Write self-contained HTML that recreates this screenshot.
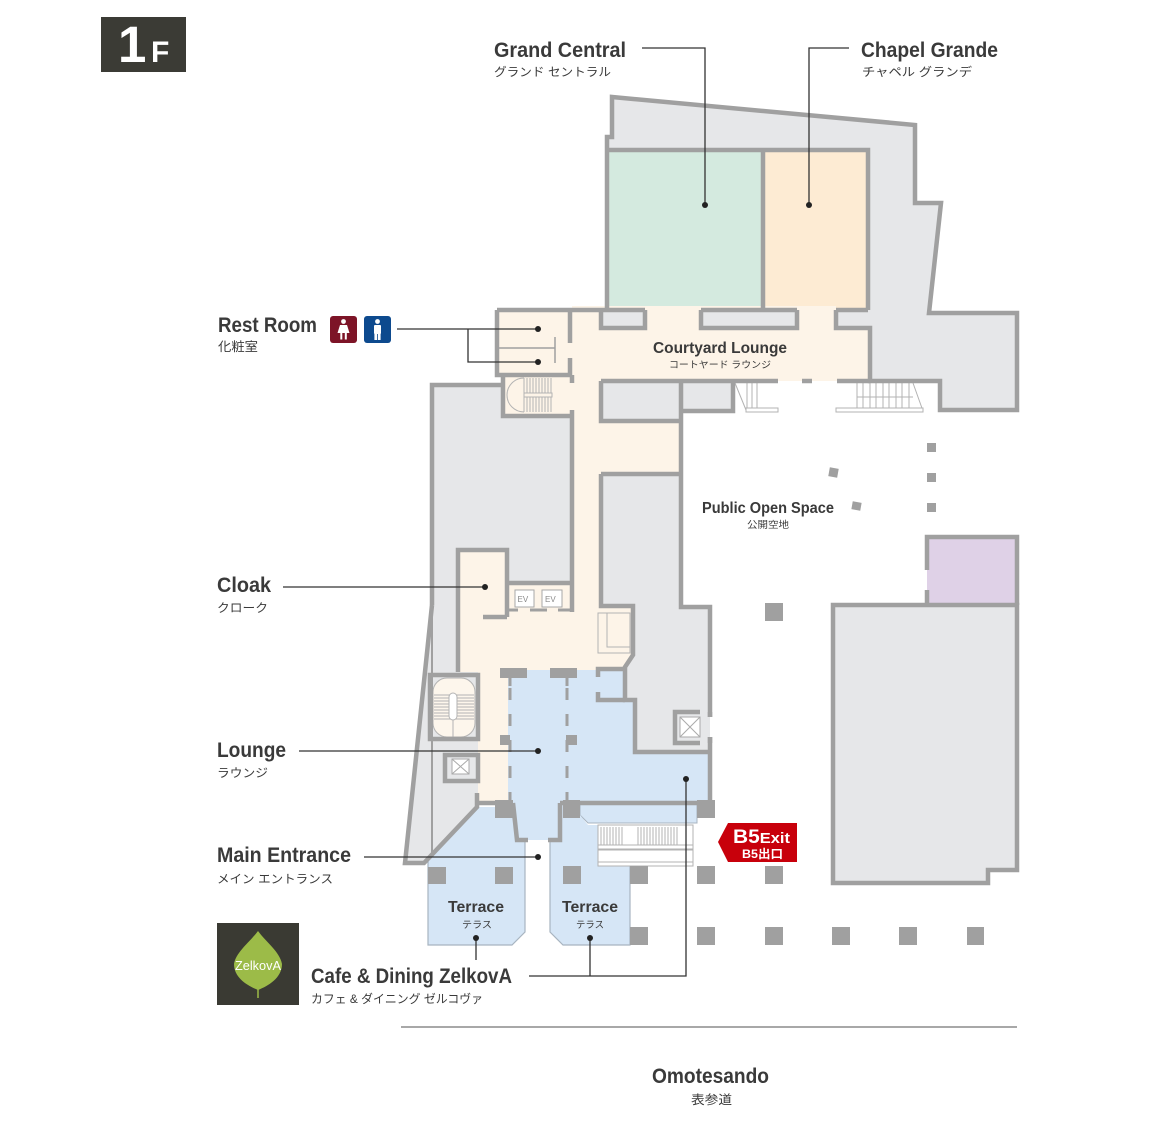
<!DOCTYPE html>
<html><head><meta charset="utf-8"><style>
html,body{margin:0;padding:0;background:#fff;}
svg{display:block;}
text{font-family:"Liberation Sans","Noto Sans CJK JP",sans-serif;fill:#3a3a3a;}
</style></head><body>
<svg width="1170" height="1131" viewBox="0 0 1170 1131" xmlns="http://www.w3.org/2000/svg">
<rect width="1170" height="1131" fill="#fff"/>

<!-- badge -->
<rect x="101" y="17" width="85" height="55" fill="#3b3b35"/>
<text x="118" y="62" font-size="51" font-weight="bold" style="fill:#fff">1</text>
<text x="151" y="62" font-size="30" font-weight="bold" style="fill:#fff">F</text>

<!-- ===== FILLS ===== -->
<path d="M612,97 L915,125 L915,203 L941,203 L929,313 L1017,313 L1017,410 L940,410 L940,381 L870,381 L870,328 L836,328 L836,310 L607,310 L607,137 L612,137 Z" fill="#e6e7e9"/>
<rect x="607" y="150" width="156" height="160" fill="#d4eadf"/>
<rect x="763" y="150" width="105" height="160" fill="#fdebd3"/>

<path d="M833,605 L1017,605 L1017,870 L988,870 L988,883 L833,883 Z" fill="#e6e7e9"/>
<rect x="927" y="537" width="90" height="68" fill="#dfd1e7"/>

<rect x="432" y="385" width="140" height="420" fill="#e6e7e9"/>
<path d="M432,605 L432,863 L405,863 Z" fill="#e6e7e9"/>
<path d="M432,803 L478,803 L432,853 Z" fill="#e6e7e9"/>
<path d="M601,474 L681,474 L681,607 L710,607 L710,752 L635,752 L635,700 L625,700 L625,667 L633,655 L633,606 L601,606 Z" fill="#e6e7e9"/>

<!-- cream -->
<path d="M572,306 L836,306 L836,328 L870,328 L870,381 L681,381 L681,474 L601,474 L601,606 L633,606 L633,655 L625,667 L625,672 L508,672 L508,803 L478,803 L478,672 L458,672 L458,550 L507,550 L507,583 L572,583 Z" fill="#fdf4e8"/>
<rect x="497" y="310" width="75" height="65" fill="#fdf4e8"/>
<rect x="503" y="375" width="69" height="41" fill="#fdf4e8"/>

<!-- gray boxes -->
<rect x="601" y="310" width="44" height="18" fill="#e6e7e9"/>
<rect x="701" y="310" width="96" height="18" fill="#e6e7e9"/>
<rect x="601" y="381" width="80" height="40" fill="#e6e7e9"/>
<rect x="681" y="381" width="52" height="30" fill="#e6e7e9"/>

<!-- blue -->
<path d="M508,670 L625,670 L625,700 L635,700 L635,752 L708,752 L708,803 L560,803 L560,840 L515,840 L515,803 L508,803 Z" fill="#d6e6f6"/>
<path d="M580,803 L697,803 L697,823 L588,823 L580,815 Z" fill="#d6e6f6" stroke="#a8b4c0" stroke-width="1"/>
<path d="M550,840 L558,840 L558,803 L580,803 L580,815 L588,825 L598,825 L598,866 L630,866 L630,945 L563,945 L550,932 Z" fill="#d6e6f6"/>
<path d="M428,857 L477,807 L513,807 L517,840 L525,842 L525,932 L512,945 L428,945 Z" fill="#d6e6f6"/>
<path d="M525,842 L525,932 L512,945 L428,945 L428,857" fill="none" stroke="#a8b4c0" stroke-width="1.2"/>
<path d="M550,840 L550,932 L563,945 L630,945 L630,866" fill="none" stroke="#a8b4c0" stroke-width="1.2"/>

<!-- ===== DETAILS (thin) ===== -->
<g fill="none" stroke="#b3b3b3" stroke-width="1">
  <!-- restroom partitions -->
  <path d="M499,348 L555,348 M555,337 L555,363" stroke="#a0a0a0" stroke-width="1.5"/>
  <!-- upper-left stair -->
  <path d="M524,378 A17,17 0 0 0 524,412"/>
  <path d="M524,378 L524,412 M527,378 L527,412 M530,378 L530,412 M533,378 L533,412 M536,378 L536,412 M539,378 L539,412 M542,378 L542,412 M545,378 L545,412 M548,378 L548,412 M551,378 L551,412"/>
  <rect x="524" y="393" width="28" height="4" fill="#fdf4e8"/>
  <!-- left stair at courtyard -->
  <path d="M735,383 L746,410 M747,383 L747,408 M752,383 L752,408 M757,383 L757,408"/>
  <rect x="746" y="408" width="32" height="4" fill="#fff"/>
  <!-- right stair -->
  <path d="M857,383 L857,408 M863,383 L863,408 M870,383 L870,408 M876,383 L876,408 M883,383 L883,408 M889,383 L889,408 M896,383 L896,408 M902,383 L902,408 M909,383 L909,408 M857,397 L913,397 M913,383 L923,411"/>
  <rect x="836" y="408" width="87" height="4" fill="#fff"/>
  <!-- counter box -->
  <rect x="598" y="613" width="32" height="40"/>
  <path d="M607,613 L607,647 L630,647"/>
  <!-- entrance stair -->
  <rect x="598" y="825" width="95" height="41" fill="#fff"/>
  <path d="M601,827 L601,845 M604,827 L604,845 M607,827 L607,845 M610,827 L610,845 M613,827 L613,845 M616,827 L616,845 M619,827 L619,845 M622,827 L622,845 M638,827 L638,845 M641,827 L641,845 M644,827 L644,845 M647,827 L647,845 M650,827 L650,845 M653,827 L653,845 M656,827 L656,845 M659,827 L659,845 M662,827 L662,845 M665,827 L665,845 M668,827 L668,845 M671,827 L671,845 M674,827 L674,845 M677,827 L677,845"/>
  <rect x="598" y="845" width="95" height="4" fill="#fff"/>
  <rect x="598" y="850" width="95" height="12" fill="#fff"/>
</g>

<!-- EV boxes -->
<rect x="515" y="590" width="19" height="17" fill="#fff" stroke="#a8a8a8" stroke-width="1"/>
<rect x="542" y="590" width="20" height="17" fill="#fff" stroke="#a8a8a8" stroke-width="1"/>
<text x="517.5" y="602" font-size="8" style="fill:#8a8a8a">EV</text>
<text x="545" y="602" font-size="8" style="fill:#8a8a8a">EV</text>

<!-- lower-left stair box -->
<rect x="430" y="675" width="48" height="64" fill="#e6e7e9"/>
<rect x="433" y="678" width="42" height="59" rx="14" fill="#fdf6ec" stroke="#b3b3b3" stroke-width="1"/>
<g stroke="#b3b3b3" stroke-width="1">
  <path d="M434,695 L474,695 M434,698 L474,698 M434,701 L474,701 M434,704 L474,704 M434,707 L474,707 M434,710 L474,710 M434,713 L474,713 M434,716 L474,716 M434,719 L474,719 M453,720 L453,737"/>
</g>
<rect x="449" y="693" width="8" height="27" rx="4" fill="#fff" stroke="#b3b3b3" stroke-width="1"/>

<!-- lower-left elevator -->
<rect x="445" y="755" width="33" height="26" fill="#e6e7e9"/>
<rect x="452" y="759" width="17" height="15" fill="#fff" stroke="#aaa" stroke-width="1"/>
<path d="M452,759 L469,774 M469,759 L452,774" stroke="#aaa" stroke-width="1"/>

<!-- right elevator -->
<rect x="680" y="717" width="20" height="20" fill="#fff" stroke="#aaa" stroke-width="1"/>
<path d="M680,717 L700,737 M700,717 L680,737" stroke="#aaa" stroke-width="1"/>

<!-- dashed column lines in lounge -->
<path d="M510,688 L510,800 M567,688 L567,800" stroke="#a0a0a0" stroke-width="3" stroke-dasharray="12 14"/>

<!-- ===== WALLS ===== -->
<g fill="none" stroke="#a0a0a0" stroke-width="4.5" stroke-linejoin="miter">
  <path d="M607,310 L607,137 L612,137 L612,97 L915,125 L915,203 L941,203 L929,313 L1017,313 L1017,410 L940,410 L940,381 L870,381 L870,328 L836,328 L836,310"/>
  <path d="M607,150 L868,150 L868,310 M763,150 L763,310"/>
  <path d="M497,310 L645,310 M701,310 L797,310 M836,310 L868,310"/>
  <path d="M601,310 L601,328 L645,328 L645,310 M701,310 L701,328 L797,328 L797,310"/>
  <path d="M497,310 L497,375 L572,375 M570,310 L570,343 M570,358 L570,375"/>
  <path d="M503,375 L503,416 L572,416 M572,375 L572,383 M572,410 L572,612"/>
  <path d="M432,605 L432,385 L503,385"/>
  <path d="M432,605 L405,863 L424,863 L477,807 L477,793"/>
  <path d="M458,672 L458,550 L507,550 L507,617 M483,617 L507,617"/>
  <path d="M507,583 L572,583"/>
  <path d="M601,381 L778,381 M837,381 L870,381 M802,381 L812,381"/>
  <path d="M601,381 L601,421 L681,421"/>
  <path d="M681,381 L681,607 L710,607 L710,717 M710,737 L710,803"/>
  <path d="M681,411 L733,411 L733,381"/>
  <path d="M601,474 L681,474 M601,474 L601,606 L633,606 L633,655 L625,667 L625,700 L635,700 L635,752 L710,752"/>
  <path d="M598,677 L598,669 L625,669 M598,692 L598,700 L625,700"/>
  <path d="M477,803 L513,803 M513,803 L517,840 L528,840 M560,803 L710,803 M560,803 L560,840 L548,840"/>
  <rect x="430" y="675" width="48" height="64"/>
  <rect x="445" y="755" width="33" height="26"/>
  <path d="M700,712 L675,712 L675,743 L700,743"/>
  <path d="M710,712 L710,717 M710,737 L710,743"/>
  <path d="M927,570 L927,537 L1017,537 L1017,605 M927,590 L927,605"/>
  <path d="M833,883 L833,605 L1017,605 L1017,870 L988,870 L988,883 Z"/>
</g>
<path d="M432,605 L432,855" stroke="#a0a0a0" stroke-width="2"/>
<g stroke="#a0a0a0" stroke-width="3">
  <path d="M507,610 L518,610 M530,610 L547,610 M558,610 L572,610"/>
  <path d="M510,678 L510,686 M567,678 L567,686"/>
</g>

<!-- ===== COLUMNS ===== -->
<g fill="#a0a0a0">
  <rect x="500" y="668" width="27" height="10"/>
  <rect x="550" y="668" width="27" height="10"/>
  <rect x="500" y="735" width="10" height="10"/>
  <rect x="566" y="735" width="11" height="10"/>
  <rect x="495" y="800" width="18" height="18"/>
  <rect x="563" y="800" width="17" height="18"/>
  <rect x="697" y="800" width="18" height="18"/>
  <rect x="927" y="443" width="9" height="9"/>
  <rect x="927" y="473" width="9" height="9"/>
  <rect x="927" y="503" width="9" height="9"/>
  <rect x="829" y="468" width="9" height="9" transform="rotate(10 833.5 472.5)"/>
  <rect x="852" y="502" width="9" height="8" transform="rotate(10 856.5 506)"/>
  <rect x="765" y="603" width="18" height="18"/>
  <rect x="428" y="867" width="18" height="17"/>
  <rect x="495" y="867" width="18" height="17"/>
  <rect x="563" y="866" width="18" height="18"/>
  <rect x="630" y="866" width="18" height="18"/>
  <rect x="697" y="866" width="18" height="18"/>
  <rect x="765" y="866" width="18" height="18"/>
  <rect x="630" y="927" width="18" height="18"/>
  <rect x="697" y="927" width="18" height="18"/>
  <rect x="765" y="927" width="18" height="18"/>
  <rect x="832" y="927" width="18" height="18"/>
  <rect x="899" y="927" width="18" height="18"/>
  <rect x="967" y="927" width="17" height="18"/>
</g>

<!-- Omotesando road line -->
<path d="M401,1027 L1017,1027" stroke="#a8a8a8" stroke-width="2"/>

<!-- ===== LEADERS ===== -->
<g fill="none" stroke="#333" stroke-width="1.3">
  <path d="M642,48 L705,48 L705,205"/>
  <path d="M849,48 L809,48 L809,205"/>
  <path d="M397,329 L538,329 M468,329 L468,362 L538,362"/>
  <path d="M283,587 L485,587"/>
  <path d="M299,751 L538,751"/>
  <path d="M364,857 L538,857"/>
  <path d="M529,976 L686,976 L686,779"/>
  <path d="M590,938 L590,976"/>
  <path d="M476,938 L476,960"/>
</g>
<g fill="#222">
  <circle cx="705" cy="205" r="3"/>
  <circle cx="809" cy="205" r="3"/>
  <circle cx="538" cy="329" r="3"/>
  <circle cx="538" cy="362" r="3"/>
  <circle cx="485" cy="587" r="3"/>
  <circle cx="538" cy="751" r="3"/>
  <circle cx="538" cy="857" r="3"/>
  <circle cx="686" cy="779" r="3"/>
  <circle cx="590" cy="938" r="3"/>
  <circle cx="476" cy="938" r="3"/>
</g>

<!-- restroom icons -->
<rect x="330" y="316" width="27" height="27" rx="3" fill="#7d1427"/>
<circle cx="343.5" cy="321.5" r="2.4" fill="#fff"/>
<path d="M340,325 L347,325 L349.5,333 L337.5,333 Z" fill="#fff"/>
<rect x="340.3" y="333" width="2" height="6.5" fill="#fff"/>
<rect x="344.8" y="333" width="2" height="6.5" fill="#fff"/>
<rect x="364" y="316" width="27" height="27" rx="3" fill="#0d4a8e"/>
<circle cx="377.5" cy="321.5" r="2.4" fill="#fff"/>
<rect x="374" y="325" width="7" height="9" rx="1" fill="#fff"/>
<rect x="374.4" y="333" width="2.7" height="7" fill="#fff"/>
<rect x="377.9" y="333" width="2.7" height="7" fill="#fff"/>

<!-- B5 Exit -->
<path d="M718,842 L728,823 L797,823 L797,862 L728,862 Z" fill="#c8000b"/>
<text x="733" y="843" font-weight="bold" textLength="57" lengthAdjust="spacingAndGlyphs" style="fill:#fff"><tspan font-size="19">B5</tspan><tspan font-size="15">Exit</tspan></text>
<text x="742" y="858" font-size="12" font-weight="bold" textLength="41" lengthAdjust="spacingAndGlyphs" style="fill:#fff">B5出口</text>

<!-- Zelkova logo -->
<rect x="217" y="923" width="82" height="82" fill="#3a3a33"/>
<path d="M258,931 C250,942 236,952 234,964 C234,978 248,986 258,990 C268,986 282,978 282,964 C280,952 266,942 258,931 Z" fill="#9cbb48"/>
<path d="M258,975 L258,998" stroke="#9cbb48" stroke-width="1.5"/>
<text x="235" y="970" font-size="13" textLength="46" lengthAdjust="spacingAndGlyphs" style="fill:#fff">ZelkovA</text>

<!-- ===== LABELS ===== -->
<g font-weight="bold">
  <text x="494" y="57" font-size="21" textLength="132" lengthAdjust="spacingAndGlyphs">Grand Central</text>
  <text x="861" y="57" font-size="21" textLength="137" lengthAdjust="spacingAndGlyphs">Chapel Grande</text>
  <text x="218" y="332" font-size="21" textLength="99" lengthAdjust="spacingAndGlyphs">Rest Room</text>
  <text x="217" y="592" font-size="21" textLength="54" lengthAdjust="spacingAndGlyphs">Cloak</text>
  <text x="217" y="757" font-size="21" textLength="69" lengthAdjust="spacingAndGlyphs">Lounge</text>
  <text x="217" y="862" font-size="21" textLength="134" lengthAdjust="spacingAndGlyphs">Main Entrance</text>
  <text x="311" y="983" font-size="21" textLength="201" lengthAdjust="spacingAndGlyphs">Cafe &amp; Dining ZelkovA</text>
  <text x="652" y="1083" font-size="21" textLength="117" lengthAdjust="spacingAndGlyphs">Omotesando</text>
  <text x="653" y="353" font-size="16" textLength="134" lengthAdjust="spacingAndGlyphs">Courtyard Lounge</text>
  <text x="702" y="513" font-size="16" textLength="132" lengthAdjust="spacingAndGlyphs">Public Open Space</text>
  <text x="448" y="912" font-size="16" textLength="56" lengthAdjust="spacingAndGlyphs">Terrace</text>
  <text x="562" y="912" font-size="16" textLength="56" lengthAdjust="spacingAndGlyphs">Terrace</text>
</g>
<g>
  <text x="494" y="76" font-size="12" textLength="117" lengthAdjust="spacingAndGlyphs">グランド セントラル</text>
  <text x="862" y="76" font-size="12" textLength="110" lengthAdjust="spacingAndGlyphs">チャペル グランデ</text>
  <text x="218" y="351" font-size="12.5" textLength="40" lengthAdjust="spacingAndGlyphs">化粧室</text>
  <text x="217" y="612" font-size="12" textLength="51" lengthAdjust="spacingAndGlyphs">クローク</text>
  <text x="217" y="777" font-size="12" textLength="51" lengthAdjust="spacingAndGlyphs">ラウンジ</text>
  <text x="217" y="883" font-size="12" textLength="116" lengthAdjust="spacingAndGlyphs">メイン エントランス</text>
  <text x="311" y="1003" font-size="12" textLength="172" lengthAdjust="spacingAndGlyphs">カフェ &amp; ダイニング ゼルコヴァ</text>
  <text x="691" y="1104" font-size="12.5" textLength="41" lengthAdjust="spacingAndGlyphs">表参道</text>
  <text x="669" y="368" font-size="9.5" textLength="102" lengthAdjust="spacingAndGlyphs">コートヤード ラウンジ</text>
  <text x="747" y="528" font-size="9.5" textLength="42" lengthAdjust="spacingAndGlyphs">公開空地</text>
  <text x="462" y="928" font-size="9.5" textLength="30" lengthAdjust="spacingAndGlyphs">テラス</text>
  <text x="576" y="928" font-size="9.5" textLength="28" lengthAdjust="spacingAndGlyphs">テラス</text>
</g>
</svg>
</body></html>
